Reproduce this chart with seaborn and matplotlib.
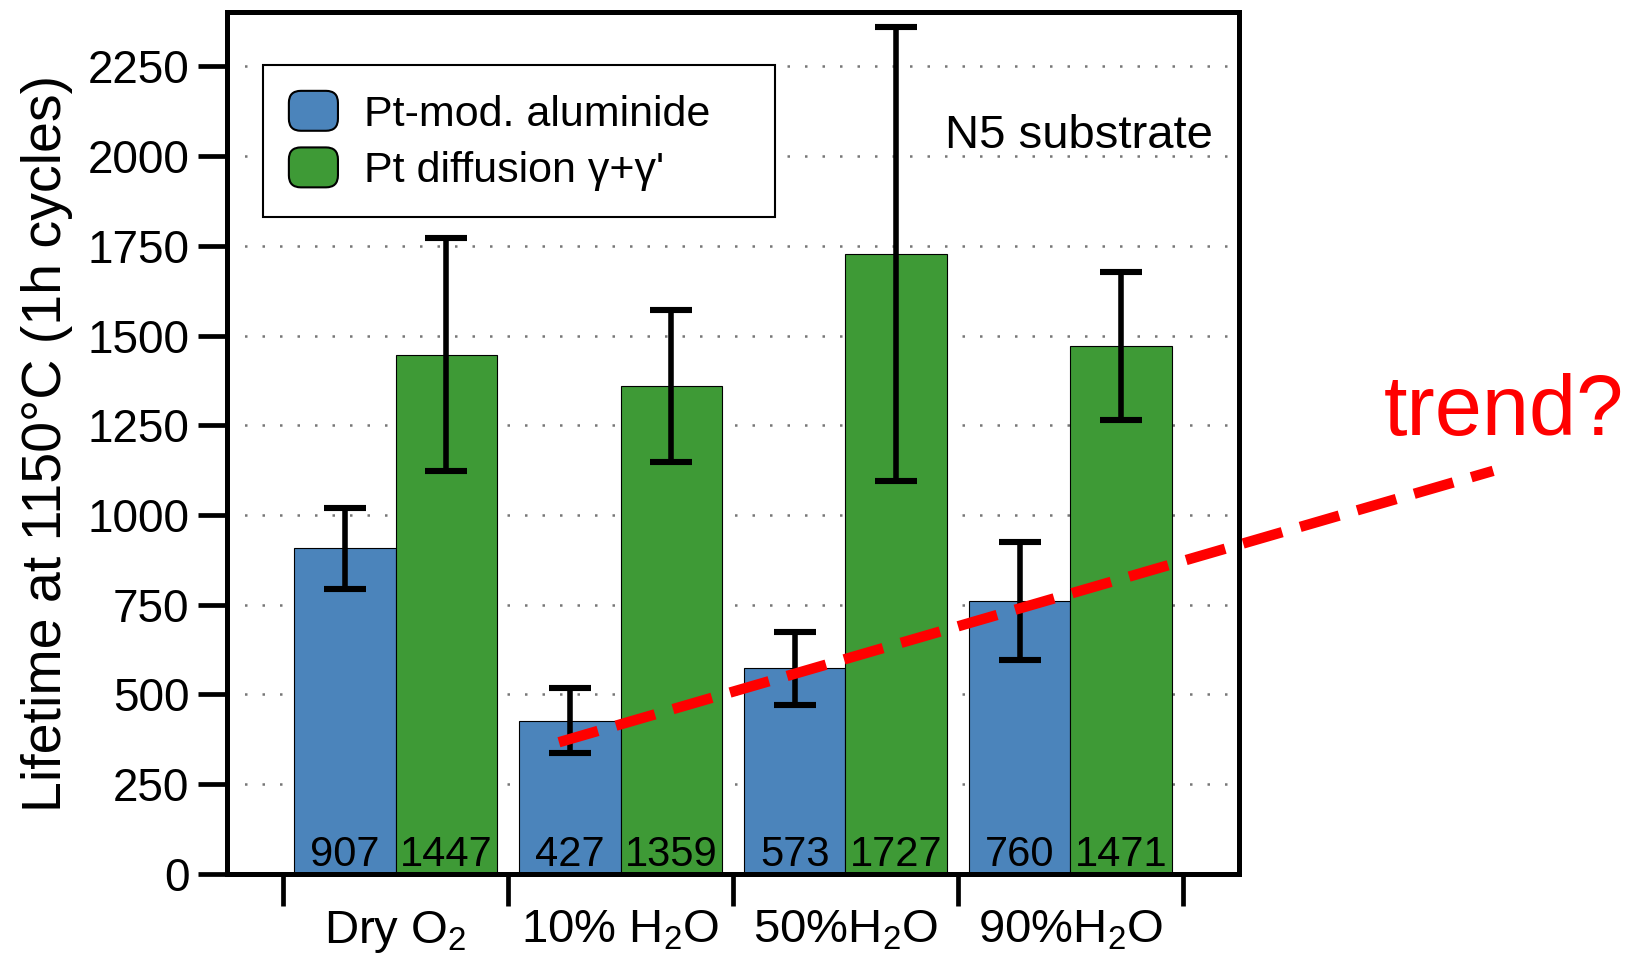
import numpy as np
import pandas as pd
import matplotlib
matplotlib.use("Agg")
import matplotlib.pyplot as plt
from matplotlib.patches import Patch, FancyBboxPatch
from matplotlib.legend_handler import HandlerPatch
import seaborn as sns

# --- data -------------------------------------------------------------
conditions = ["Dry O$_{\\mathrm{2}}$", "10% H$_{\\mathrm{2}}$O", "50%H$_{\\mathrm{2}}$O", "90%H$_{\\mathrm{2}}$O"]
coatings = ["Pt-mod. aluminide", "Pt diffusion \u03b3+\u03b3'"]
aluminide_life = [907, 427, 573, 760]
aluminide_err = [112, 90, 102, 165]
diffusion_life = [1447, 1359, 1727, 1471]
diffusion_err = [325, 212, 632, 207]
y_ticks = [0, 250, 500, 750, 1000, 1250, 1500, 1750, 2000, 2250]
trend_x = [0.726, 4.88]
trend_y = [367, 1123]

blue = "#4B84BB"
green = "#3E9A36"

df = pd.DataFrame({
    "condition": conditions * 2,
    "coating": [coatings[0]] * 4 + [coatings[1]] * 4,
    "lifetime": aluminide_life + diffusion_life,
})
errors = [aluminide_err, diffusion_err]

sns.set_style("white")
plt.rcParams["font.family"] = ["Liberation Sans", "DejaVu Sans"]
plt.rcParams["mathtext.fontset"] = "custom"
plt.rcParams["mathtext.rm"] = "Liberation Sans"
plt.rcParams["mathtext.it"] = "Liberation Sans:italic"
for key in ["text.color", "axes.labelcolor", "xtick.color", "ytick.color"]:
    plt.rcParams[key] = "black"

fig = plt.figure(figsize=(16.32, 9.58), dpi=100)
ax = fig.add_axes([0.1391, 0.0877, 0.6201, 0.8993])

sns.barplot(data=df, x="condition", y="lifetime", hue="coating",
            palette=[blue, green], saturation=1, width=0.9, errorbar=None,
            edgecolor="black", linewidth=0.8, ax=ax, legend=False, zorder=2)

# error bars and value labels on each bar
for container, errs in zip(ax.containers, errors):
    for bar, e in zip(container, errs):
        xc = bar.get_x() + bar.get_width() / 2
        h = bar.get_height()
        ax.errorbar(xc, h, yerr=e, fmt="none", ecolor="black",
                    elinewidth=4.0, capsize=15, capthick=4.4, zorder=4)
        ax.annotate(f"{h:.0f}", (xc, 0), xytext=(0, 6), textcoords="offset points",
                    ha="center", va="baseline", fontsize=30, color="black", zorder=5)

# axes ranges and ticks
ax.set_xlim(-0.75, 3.75)
ax.set_ylim(0, 2400)
ax.set_yticks(y_ticks)
ax.set_yticklabels([str(t) for t in y_ticks])
ax.set_xticks(np.arange(len(conditions) + 1) - 0.5)
ax.set_xticklabels([""] * (len(conditions) + 1))
ax.set_xticks(np.arange(len(conditions)), minor=True)
ax.set_xticklabels(conditions, minor=True)
ax.tick_params(axis="x", which="major", direction="out", length=23, width=3.4, bottom=True)
ax.tick_params(axis="x", which="minor", length=0, pad=25, labelsize=34)
ax.tick_params(axis="y", direction="out", length=21, width=3.4, left=True, pad=6, labelsize=33)
ax.set_xlabel("")

# dotted horizontal grid
for t in y_ticks[1:]:
    ax.axhline(t, color="#777777", lw=1.8, ls=(0, (1, 6)), zorder=0)

for sp in ax.spines.values():
    sp.set_linewidth(3.6)
    sp.set_color("black")
    sp.set_zorder(6)

ax.set_ylabel("Lifetime at 1150\u00b0C (1h cycles)", fontsize=40)
ax.yaxis.set_label_coords(-0.178, 0.5)
ax.yaxis.label.set_va("center")

# legend with rounded colour swatches
class RoundHandler(HandlerPatch):
    def create_artists(self, legend, orig_handle, xdescent, ydescent,
                       width, height, fontsize, trans):
        r = 0.3 * min(width, height)
        p = FancyBboxPatch((-xdescent, -ydescent), width, height,
                           boxstyle=f"round,pad=0,rounding_size={r}",
                           facecolor=orig_handle.get_facecolor(),
                           edgecolor="black", linewidth=1.5, transform=trans)
        return [p]

handles = [Patch(facecolor=blue), Patch(facecolor=green)]
leg = ax.legend(handles, coatings, loc="upper left",
                bbox_to_anchor=(0.0356, 0.767, 0.506, 0.172), mode="expand",
                borderaxespad=0, fontsize=31, frameon=True, fancybox=False,
                framealpha=1, edgecolor="black", handlelength=1.14, handleheight=1.05,
                handletextpad=0.6, labelspacing=0.3, borderpad=0.6,
                handler_map={Patch: RoundHandler()})
leg.get_frame().set_linewidth(1.5)
leg.set_zorder(7)

ax.text(0.974, 0.843, "N5 substrate", transform=ax.transAxes, ha="right",
        va="baseline", fontsize=34, zorder=7)

# dashed trend guide, running past the right edge of the axes
ax.plot(trend_x, trend_y, color="#ff0000", lw=7.5, dashes=(3.9, 1.8),
        solid_capstyle="butt", dash_capstyle="butt", clip_on=False, zorder=8)
fig.text(0.848, 0.546, "trend?", color="#ff0000", fontsize=61, ha="left", va="baseline")

fig.savefig("out.png", dpi=100)
